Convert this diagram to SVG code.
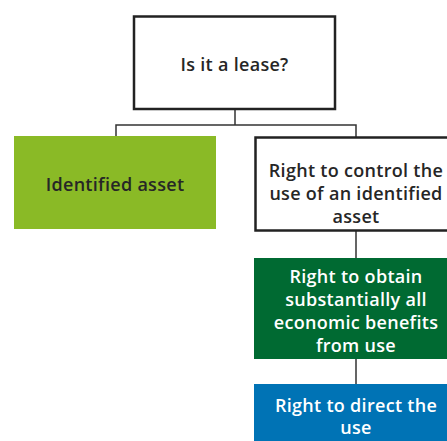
<svg xmlns="http://www.w3.org/2000/svg" width="447" height="441" viewBox="0 0 447 441">
<style>
.t{font-family:"Open Sans","Noto Sans","Liberation Sans",sans-serif;font-weight:600;font-size:18px;letter-spacing:0.3px;text-anchor:middle}
.dk{fill:#262626}
.wh{fill:#fff}
.box{fill:#fff;stroke:#222;stroke-width:2.5}
.ln{fill:none;stroke:#333;stroke-width:1.5}
</style>
<rect width="447" height="441" fill="#fff"/>
<g id="connectors">
<path class="ln" d="M235 109V125M116 137V125H356V137"/>
<path class="ln" d="M356 231V258M356 359V384"/>
</g>
<g id="lease">
<rect class="box" x="134" y="16.5" width="201" height="92.5"/>
<text class="t dk" x="234.5" y="70.5">Is it a lease?</text>
</g>
<g id="identified">
<rect x="14" y="136" width="202" height="93" fill="#8aba26"/>
<text class="t dk" x="115" y="190.5">Identified asset</text>
</g>
<g id="control">
<rect class="box" x="255.5" y="137.5" width="205" height="93"/>
<text class="t dk" x="356" y="176.5">Right to control the</text>
<text class="t dk" x="356" y="200">use of an identified</text>
<text class="t dk" x="356" y="223">asset</text>
</g>
<g id="benefits">
<rect x="254" y="258" width="206" height="101" fill="#006a32"/>
<text class="t wh" x="356" y="282.5">Right to obtain</text>
<text class="t wh" x="356" y="305.5">substantially all</text>
<text class="t wh" x="356" y="328.5">economic benefits</text>
<text class="t wh" x="356" y="351.5">from use</text>
</g>
<g id="direct">
<rect x="254" y="384" width="206" height="60" fill="#0073b5"/>
<text class="t wh" x="356" y="411.5">Right to direct the</text>
<text class="t wh" x="356" y="434">use</text>
</g>
</svg>
